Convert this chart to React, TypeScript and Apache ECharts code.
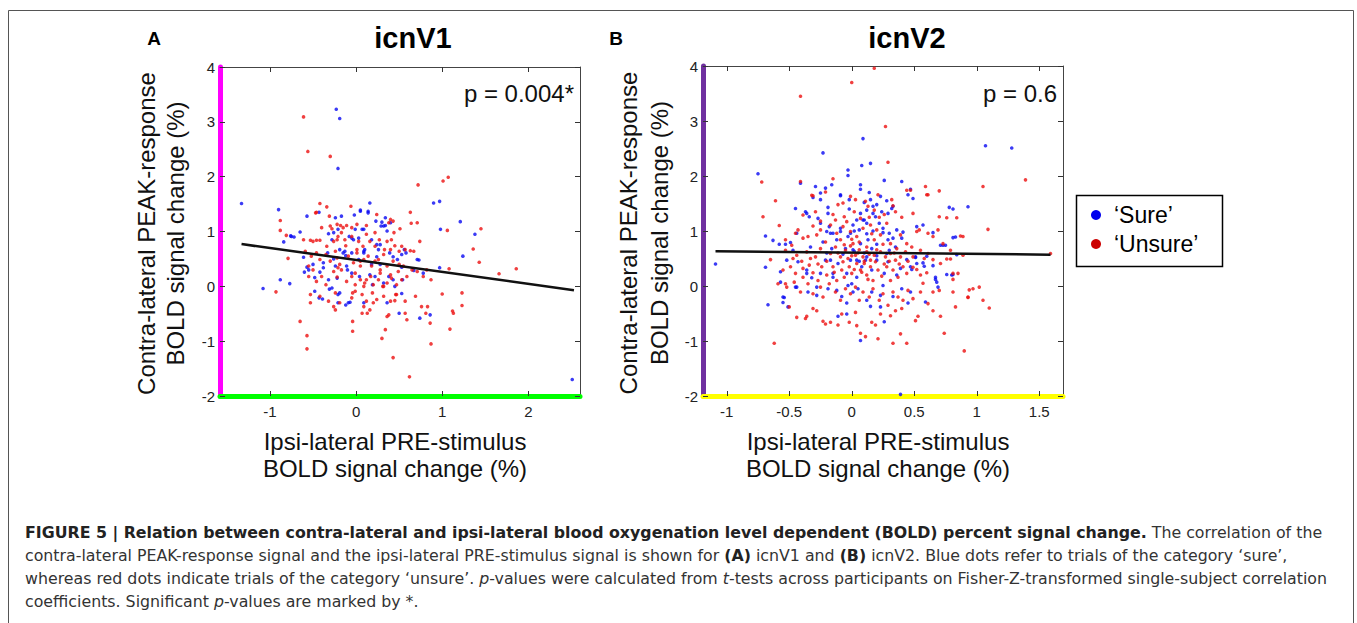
import React, { useEffect, useRef } from "react";
import * as echarts from "echarts";

type P = [number, number];

// ---------- axes / ticks ----------
const yTicks = [-2, -1, 0, 1, 2, 3, 4];
const yRange = [-2, 4];
const xTicksA = [-1, 0, 1, 2];
const xTicksB = [-1, -0.5, 0, 0.5, 1, 1.5];
const xRangeA = [-1.58, 2.6];
const xRangeB = [-1.19, 1.69];

// ---------- regression lines ----------
const fitA: P[] = [[-1.33, 0.77], [2.53, -0.07]];
const fitB: P[] = [[-1.09, 0.63], [1.59, 0.57]];

// ---------- texts ----------
const panelLetters = ["A", "B"];
const panelTitles = ["icnV1", "icnV2"];
const pValues = ["p = 0.004*", "p = 0.6"];
const yTitle = ["Contra-lateral PEAK-response", "BOLD signal change (%)"];
const xTitle = ["Ipsi-lateral PRE-stimulus", "BOLD signal change (%)"];
const legendLabels = ["\u2018Sure\u2019", "\u2018Unsure\u2019"];

// ---------- panel A: icnV1 ----------
const sureA: P[] = [
  [-1.33, 1.51], [-0.23, 3.23], [-0.19, 3.06], [-0.21, 2.15], [-0.9, 1.4], [-1.08, -0.04], [-0.88, 0.12], [-0.77, 0.05],
  [-0.84, 0.81], [-0.75, 0.91], [-0.72, 0.9], [-0.65, 0.99], [-0.57, 1.28], [-0.61, 0.53], [-0.6, 0.26], [-0.55, 0.3],
  [-0.48, 0.16], [-0.48, -0.09], [-0.43, 1.35], [-0.39, -0.23], [-0.38, 0.34], [-0.32, 0.96], [-0.31, -0.05], [-0.28, -0.03],
  [-0.26, 0.98], [-0.24, 1.25], [-0.22, 0.15], [-0.21, -0.3], [-0.19, -0.12], [-0.17, 1.28], [-0.15, 0.61], [-0.13, 0.64],
  [-0.11, 0.37], [-0.09, -0.3], [-0.07, -0.29], [-0.05, 0.88], [-0.03, 0.85], [0.05, 1.37], [0.07, 1.04], [0.09, 0.61],
  [0.1, 0.67], [0.14, 1.37], [0.16, 1.52], [0.18, 0.85], [0.22, 0.18], [0.23, 1.19], [0.26, 0.67], [0.28, 0.76],
  [0.29, 1.1], [0.32, 0.06], [0.36, 1.01], [0.36, -0.3], [0.39, 0.61], [0.43, 0.12], [0.45, 0.0], [0.48, 0.49],
  [0.5, -0.49], [0.53, 0.58], [0.56, 0.67], [0.58, 0.61], [0.67, 0.29], [0.71, 0.49], [0.74, -0.58], [0.78, 0.24],
  [0.86, -0.52], [0.9, 1.52], [0.97, 1.55], [0.98, 1.04], [0.97, 0.34], [1.21, 1.18], [1.24, 0.55], [1.38, 0.95],
  [2.51, -1.7], [0.34, 1.25], [0.4, 1.16], [-0.02, 1.3], [0.05, 1.39], [0.14, 1.34], [0.3, 1.17], [0.34, 1.11],
  [-0.76, 0.92], [-0.28, 0.85], [-0.21, 1.04], [-0.08, 0.91], [-0.01, 1.04], [0.03, 0.88], [0.09, 1.04], [0.24, 0.76],
  [0.32, 1.1], [-0.5, 0.4], [-0.38, 0.43], [-0.33, 0.61], [-0.26, 0.5], [-0.19, 0.67], [-0.12, 0.56], [-0.05, 0.61],
  [0.03, 0.49], [0.09, 0.64], [0.18, 0.4], [0.24, 0.54], [0.28, 0.4], [0.43, 0.54], [0.53, 0.35], [0.73, 0.48],
  [-0.57, 0.35], [-0.42, 0.26], [-0.32, 0.12], [-0.24, 0.37], [-0.1, 0.3], [-0.05, 0.24], [0.04, 0.18], [0.16, 0.21],
  [0.38, 0.18], [0.54, 0.12], [-0.43, -0.21], [-0.21, -0.15], [-0.12, -0.34], [0.09, -0.3], [0.19, 0.03], [0.53, -0.13],
];
const unsureA: P[] = [
  [-0.61, 3.09], [-0.56, 2.46], [-0.3, 2.37], [0.72, 1.85], [1.01, 1.92], [1.07, 1.99], [-0.88, 1.2], [-0.88, 1.02],
  [-0.81, 0.93], [-0.79, 0.51], [-0.93, -0.1], [-0.65, -0.64], [-0.57, -0.9], [-0.57, -1.14], [-0.53, -0.3], [-0.61, 0.85],
  [-0.59, 0.64], [-0.5, 0.82], [-0.47, 1.34], [-0.42, 1.51], [-0.4, 1.07], [-0.34, 1.45], [-0.31, 1.28], [-0.28, 1.05],
  [-0.26, -0.37], [-0.24, -0.43], [-0.22, 0.85], [-0.21, 0.34], [-0.18, 1.11], [-0.15, 1.07], [-0.12, 0.74], [-0.06, 1.46],
  [-0.04, -0.12], [-0.04, -0.64], [-0.04, -0.82], [-0.01, 0.24], [0.01, 0.67], [0.05, 0.46], [0.07, -0.49], [0.09, -0.37],
  [0.1, 0.06], [0.12, 0.12], [0.13, -0.49], [0.16, -0.43], [0.2, -0.3], [0.22, 0.98], [0.24, 1.31], [0.26, 0.49],
  [0.28, 0.24], [0.3, -0.95], [0.32, 0.0], [0.34, -0.79], [0.36, -0.55], [0.38, -0.52], [0.4, 1.22], [0.41, 0.85],
  [0.43, -1.3], [0.44, 0.98], [0.45, -0.26], [0.46, -0.15], [0.5, 0.4], [0.53, 0.73], [0.57, -0.49], [0.59, -0.61],
  [0.63, 1.35], [0.62, -1.65], [0.64, 1.15], [0.67, 0.64], [0.71, 1.16], [0.74, 0.82], [0.81, -0.49], [0.86, -0.67],
  [0.87, -1.05], [1.0, -0.14], [1.06, 1.02], [1.08, 0.32], [1.09, -0.78], [1.12, -0.45], [1.13, -0.49], [1.23, -0.12],
  [1.23, -0.35], [1.36, 0.68], [1.43, 0.44], [1.45, 1.05], [1.66, 0.23], [1.86, 0.32],
  [-0.46, 1.35], [-0.3, 1.1], [-0.22, 1.13], [-0.11, 1.11], [-0.05, 1.07], [0.01, 1.13], [0.12, 1.11], [0.38, 1.16],
  [0.43, 1.19], [0.51, 1.05], [-0.53, 0.84], [-0.46, 0.84], [-0.42, 0.84], [-0.34, 0.73], [-0.26, 0.82], [-0.21, 0.91],
  [-0.17, 0.98], [-0.13, 0.85], [-0.05, 0.91], [0.03, 0.82], [0.08, 0.73], [0.12, 0.95], [0.16, 0.82], [0.22, 0.73],
  [0.27, 0.85], [0.33, 0.67], [0.36, 0.82], [0.4, 0.67], [0.45, 0.74], [0.5, 0.64], [0.57, 0.67], [0.63, 0.65],
  [-0.55, 0.37], [-0.52, 0.55], [-0.46, 0.61], [-0.42, 0.49], [-0.35, 0.58], [-0.3, 0.46], [-0.24, 0.64], [-0.22, 0.52],
  [-0.19, 0.4], [-0.09, 0.55], [-0.03, 0.43], [0.01, 0.61], [0.05, 0.37], [0.09, 0.49], [0.14, 0.55], [0.18, 0.37],
  [0.22, 0.46], [0.28, 0.3], [0.32, 0.58], [0.36, 0.37], [0.4, 0.21], [0.43, 0.46], [0.49, 0.27], [0.55, 0.37],
  [0.59, 0.18], [0.65, 0.3], [0.71, 0.27], [0.78, 0.18], [0.82, 0.3], [0.87, 0.12], [-0.55, 0.18], [-0.5, 0.3],
  [-0.46, 0.09], [-0.4, 0.18], [-0.35, 0.03], [-0.26, 0.27], [-0.22, 0.17], [-0.17, 0.3], [-0.11, 0.09], [-0.05, 0.18],
  [-0.01, 0.03], [0.05, 0.12], [0.09, 0.0], [0.17, 0.18], [0.2, 0.03], [0.26, 0.12], [0.31, 0.0], [0.36, 0.06],
  [0.41, 0.15], [0.47, 0.03], [0.53, 0.12], [0.69, -0.18], [-0.53, -0.15], [-0.42, -0.18], [-0.32, -0.27], [-0.24, -0.12],
  [-0.19, -0.3], [-0.05, -0.21], [-0.01, -0.09], [0.07, -0.15], [0.12, -0.27], [0.19, -0.12], [0.24, -0.24], [0.32, -0.18],
  [0.4, -0.27], [0.47, -0.15], [0.57, -0.27], [0.76, -0.37], [0.83, -0.37],
];

// ---------- panel B: icnV2 ----------
const sureB: P[] = [
  [-1.09, 0.4], [-0.75, 2.04], [-0.69, 0.91], [-0.63, 0.83], [-0.69, 0.34], [-0.67, -0.34], [-0.54, -0.21], [-0.55, -0.3],
  [-0.51, -0.38], [-0.49, 0.79], [-0.47, 0.65], [-0.45, 1.41], [-0.44, 0.96], [-0.44, -0.02], [-0.41, 1.87], [-0.36, 1.32],
  [-0.34, 1.26], [-0.36, 0.23], [-0.31, 1.61], [-0.27, 1.23], [-0.28, -0.02], [-0.23, 2.42], [-0.25, 1.57], [-0.21, 1.78],
  [-0.19, 1.43], [-0.18, 1.08], [-0.17, 0.96], [-0.17, 0.47], [-0.15, 0.23], [-0.11, -0.55], [-0.09, 1.66], [-0.09, 0.99],
  [-0.04, -0.51], [-0.03, 2.11], [-0.03, 2.01], [-0.02, 1.57], [-0.01, 0.96], [0.0, 0.04], [0.02, 0.63], [0.04, 1.2],
  [0.04, 0.47], [0.07, 1.84], [0.07, 1.76], [0.08, 2.19], [0.09, 2.68], [0.09, 1.2], [0.12, 1.14], [0.11, 0.47],
  [0.07, -0.99], [0.15, 2.23], [0.15, 1.57], [0.17, 1.45], [0.19, 1.26], [0.23, 1.63], [0.25, 1.05], [0.26, 1.92],
  [0.26, -0.65], [0.3, 0.96], [0.32, 1.41], [0.33, 0.87], [0.39, 0.32], [0.4, 1.9], [0.41, 0.98], [0.45, -0.31],
  [0.45, 1.66], [0.49, 1.59], [0.48, 0.3], [0.51, 0.53], [0.57, 1.11], [0.57, 0.42], [0.59, -0.29], [0.67, 0.12],
  [0.65, 0.37], [0.69, -0.02], [0.73, 0.74], [0.75, 0.74], [0.76, 0.21], [0.78, 1.43], [0.81, 1.4], [0.81, 0.21],
  [0.83, 0.89], [0.84, 0.57], [0.93, 1.44], [1.07, 2.55], [1.28, 2.51], [0.39, -1.97],
  [-0.58, 0.76], [-0.53, 0.76], [-0.37, 1.35], [-0.29, 1.81], [-0.25, 1.69], [-0.16, 1.84], [-0.09, 1.64], [0.47, 1.76],
  [0.29, 1.32], [0.33, 1.45], [0.17, 1.32], [0.2, 1.48], [0.12, 1.38], [0.07, 1.32], [-0.02, 1.4], [-0.19, 1.32],
  [-0.25, 1.14], [-0.2, 0.99], [-0.15, 0.96], [-0.09, 1.05], [-0.03, 0.9], [0.01, 1.11], [0.06, 1.02], [0.1, 1.2],
  [0.13, 0.84], [0.22, 1.14], [0.25, 0.97], [0.29, 0.84], [0.36, 1.02], [0.4, 0.87], [0.52, 1.08], [0.65, 0.97],
  [0.71, 0.74], [0.81, 0.88], [-0.33, 0.71], [-0.23, 0.8], [-0.16, 0.68], [-0.12, 0.84], [-0.05, 0.68], [0.01, 0.66],
  [0.07, 0.77], [0.12, 0.53], [0.2, 0.76], [0.28, 0.59], [0.35, 0.71], [0.44, 0.48], [0.51, 0.52], [0.6, 0.54],
  [-0.52, 0.47], [-0.43, 0.44], [-0.36, 0.29], [-0.32, 0.15], [-0.25, 0.23], [-0.21, 0.47], [-0.15, 0.16], [-0.11, 0.41],
  [-0.04, 0.23], [-0.01, 0.47], [0.04, 0.16], [0.08, 0.35], [0.16, 0.29], [0.2, 0.47], [0.26, 0.23], [0.29, 0.44],
  [0.36, 0.2], [0.47, 0.35], [0.52, 0.41], [0.58, 0.36], [0.67, 0.16], [0.68, 0.07], [0.8, 0.2], [-0.57, 0.26],
  [-0.57, 0.07], [-0.45, -0.02], [-0.35, -0.11], [-0.28, -0.17], [-0.19, -0.05], [-0.12, -0.08], [-0.08, -0.19], [-0.03, 0.01],
  [0.01, -0.11], [0.05, -0.05], [0.12, -0.26], [0.16, -0.11], [0.23, -0.17], [0.25, 0.01], [0.33, -0.19], [0.4, -0.05],
  [0.47, -0.11], [-0.55, -0.2], [-0.04, -0.31], [0.15, -0.37], [0.23, -0.38],
  [0.1, 0.6], [0.16, 0.68], [0.06, 0.45], [-0.07, 0.58], [0.2, 0.55], [0.3, 0.65], [-0.2, 0.6], [0.12, 0.95],
  [0.02, 1.0], [0.17, 1.0], [0.24, 1.35], [0.28, 1.55], [0.14, 1.7], [0.1, 1.52],
];
const unsureB: P[] = [
  [0.18, 3.96], [0.0, 3.7], [-0.41, 3.45], [0.27, 2.9], [0.29, 2.25], [-0.41, 1.9], [-0.72, 1.89], [1.05, 1.81],
  [1.39, 1.93], [-0.71, 1.26], [-0.61, 1.55], [-0.58, 1.1], [-0.65, 0.48], [-0.53, 0.84], [-0.59, 0.04], [-0.53, 0.04],
  [-0.62, -1.04], [-0.5, -0.38], [-0.37, -0.59], [-0.36, -0.55], [-0.32, 1.65], [-0.28, -0.45], [-0.23, -0.64], [-0.21, -0.69],
  [-0.15, 1.95], [-0.11, -0.71], [-0.01, 1.63], [0.03, -0.48], [0.04, -0.72], [0.07, -0.86], [0.11, -0.92], [0.19, -0.71],
  [0.21, -0.96], [0.33, -1.04], [0.39, -0.87], [0.44, -1.04], [0.53, -0.55], [0.59, 1.81], [0.61, 1.66], [0.7, 1.73],
  [0.76, 1.24], [0.84, 1.24], [0.83, -0.38], [0.71, -0.55], [0.74, -0.86], [0.9, -1.18], [0.94, -0.07], [0.93, -0.21],
  [1.02, -0.02], [1.05, -0.26], [1.09, 1.03], [1.1, -0.4], [1.59, 0.59], [0.89, 0.9], [0.89, 0.56], [0.85, 0.23],
  [0.81, 0.12], [0.57, 0.05], [0.61, -0.32], [-0.44, -0.57], [-0.31, -0.41], [-0.17, -0.66], [-0.08, -0.51], [-0.02, -0.66],
  [0.16, -0.66], [0.23, -0.51], [0.31, -0.54], [0.35, -0.45], [0.4, -0.41], [0.51, -0.63], [0.65, -0.45],
  [-0.43, 1.02], [-0.31, 1.64], [-0.29, 1.35], [-0.21, 1.71], [-0.25, 1.18], [-0.11, 1.48], [-0.07, 1.51], [-0.06, 1.26],
  [0.03, 1.57], [0.11, 1.54], [0.13, 1.45], [0.18, 1.38], [0.21, 1.66], [0.32, 1.57], [0.33, 1.46], [0.44, 1.74],
  [0.47, 1.74], [0.49, 1.32], [0.6, 1.66], [0.7, 1.26], [-0.39, 1.29], [-0.48, 0.74], [-0.45, 0.96], [-0.39, 0.87],
  [-0.35, 0.9], [-0.31, 1.09], [-0.28, 0.93], [-0.25, 1.02], [-0.21, 0.8], [-0.17, 1.11], [-0.13, 1.2], [-0.12, 0.96],
  [-0.09, 0.84], [-0.07, 1.08], [-0.04, 1.17], [-0.01, 0.99], [0.01, 0.77], [0.04, 0.9], [0.07, 1.23], [0.09, 1.05],
  [0.12, 0.71], [0.15, 1.11], [0.18, 0.84], [0.2, 1.02], [0.23, 0.93], [0.25, 0.76], [0.28, 1.14], [0.31, 0.77],
  [0.36, 0.68], [0.39, 0.93], [0.44, 0.77], [0.48, 0.71], [0.52, 0.99], [0.54, 1.02], [0.61, 0.96], [0.65, 0.9],
  [0.69, 1.02], [0.73, 0.77], [0.79, 0.65], [0.87, 0.91], [-0.53, 0.65], [-0.44, 0.56], [-0.36, 0.62], [-0.29, 0.53],
  [-0.25, 0.68], [-0.17, 0.59], [-0.13, 0.71], [-0.09, 0.53], [-0.05, 0.65], [-0.01, 0.73], [0.03, 0.56], [0.06, 0.66],
  [0.09, 0.53], [0.12, 0.62], [0.15, 0.47], [0.18, 0.56], [0.2, 0.66], [0.27, 0.53], [0.31, 0.59], [0.35, 0.47],
  [0.39, 0.53], [0.43, 0.62], [0.49, 0.53], [0.55, 0.65], [0.61, 0.59], [0.65, 0.48], [0.76, 0.49], [0.79, 0.49],
  [0.97, -0.05], [-0.55, 0.29], [-0.49, 0.35], [-0.45, 0.23], [-0.39, 0.32], [-0.39, 0.16], [-0.34, 0.38], [-0.31, 0.24],
  [-0.27, 0.1], [-0.24, 0.35], [-0.2, 0.2], [-0.15, 0.35], [-0.12, 0.1], [-0.08, 0.29], [-0.06, 0.16], [-0.02, 0.35],
  [0.0, 0.23], [0.04, 0.41], [0.07, 0.29], [0.1, 0.41], [0.12, 0.2], [0.15, 0.35], [0.17, 0.1], [0.21, 0.29],
  [0.24, 0.18], [0.28, 0.35], [0.31, 0.1], [0.33, 0.29], [0.37, 0.16], [0.41, 0.35], [0.44, 0.23], [0.49, 0.34],
  [0.55, 0.2], [0.6, 0.24], [0.71, 0.41], [0.81, 0.23], [-0.52, -0.02], [-0.46, 0.07], [-0.41, -0.11], [-0.35, 0.04],
  [-0.31, -0.14], [-0.25, -0.02], [-0.23, -0.2], [-0.18, 0.04], [-0.13, -0.11], [-0.09, -0.26], [-0.05, -0.05], [-0.01, -0.14],
  [0.03, -0.02], [0.06, -0.26], [0.09, -0.11], [0.14, -0.2], [0.17, -0.05], [0.22, -0.26], [0.25, -0.14], [0.29, -0.35],
  [0.33, -0.11], [0.37, -0.2], [0.41, -0.26], [0.45, -0.08], [0.49, -0.23], [0.55, -0.11], [0.65, -0.11], [0.7, -0.08],
  [0.81, -0.11], [0.93, -0.2],
  [0.0, 0.55], [0.05, 0.6], [0.1, 0.45], [0.14, 0.58], [0.19, 0.44], [0.23, 0.62], [0.26, 0.4], [-0.03, 0.5],
  [-0.07, 0.44], [-0.11, 0.6], [0.08, 0.25], [0.13, 0.12], [0.02, 0.3], [-0.14, 0.25], [0.3, 0.45], [0.34, 0.6],
  [0.38, 0.4], [-0.2, 0.45], [-0.27, 0.4], [-0.33, 0.5], [0.45, 0.45], [0.52, 0.3], [0.58, 0.5], [-0.4, 0.45],
  [-0.47, 0.5], [0.0, 0.85], [0.06, 0.8], [0.16, 0.95], [-0.06, 0.75], [0.22, 1.25], [0.26, 1.3], [0.14, 1.25],
  [0.02, 1.35], [-0.15, 1.3], [0.4, 1.25], [0.35, 1.35],
];

// ---------- caption ----------
const captionLines = [
  "{b|FIGURE 5 | Relation between contra-lateral and ipsi-lateral blood oxygenation level dependent (BOLD) percent signal change.}{n| The correlation of the}",
  "{n|contra-lateral PEAK-response signal and the ipsi-lateral PRE-stimulus signal is shown for }{b|(A)}{n| icnV1 and }{b|(B)}{n| icnV2. Blue dots refer to trials of the category \u2018sure\u2019,}",
  "{n|whereas red dots indicate trials of the category \u2018unsure\u2019. }{i|p}{n|-values were calculated from }{i|t}{n|-tests across participants on Fisher-Z-transformed single-subject correlation}",
  "{n|coefficients. Significant }{i|p}{n|-values are marked by *.}",
];

const FONT = "'Liberation Sans', Arial, Helvetica, sans-serif";
const CAP_FONT = "'DejaVu Sans', Verdana, sans-serif";
const BLUE = "#0a0af2";
const RED = "#ec1010";

const grids = [
  { left: 220, top: 67, width: 360, height: 329 },
  { left: 703, top: 66, width: 360, height: 330 },
];
const leftColors = ["#ff00ff", "#7030a0"];
const bottomColors = ["#00ff00", "#ffff00"];

function buildOption() {
  const xAxis: any[] = [];
  const yAxis: any[] = [];
  const xr = [xRangeA, xRangeB];
  const xt = [xTicksA, xTicksB];
  for (let g = 0; g < 2; g++) {
    const tickStyle = { color: "#333", width: 1 };
    xAxis.push({
      gridIndex: g, type: "value", position: "bottom", min: xr[g][0], max: xr[g][1],
      axisLine: { show: true, onZero: false, lineStyle: { color: bottomColors[g], width: 5 } },
      axisTick: { show: true, inside: true, length: 5, customValues: xt[g], lineStyle: tickStyle },
      axisLabel: { show: true, customValues: xt[g], fontSize: 15, color: "#222", fontFamily: FONT, margin: 8 },
      splitLine: { show: false },
    });
    xAxis.push({
      gridIndex: g, type: "value", position: "top", min: xr[g][0], max: xr[g][1],
      axisLine: { show: true, onZero: false, lineStyle: { color: "#444", width: 1 } },
      axisTick: { show: true, inside: true, length: 5, customValues: xt[g], lineStyle: tickStyle },
      axisLabel: { show: false },
      splitLine: { show: false },
    });
    yAxis.push({
      gridIndex: g, type: "value", position: "left", min: yRange[0], max: yRange[1], interval: 1,
      axisLine: { show: true, onZero: false, lineStyle: { color: leftColors[g], width: 5 } },
      axisTick: { show: true, inside: true, length: 5, lineStyle: tickStyle },
      axisLabel: { show: true, customValues: yTicks, fontSize: 15, color: "#222", fontFamily: FONT, margin: 5 },
      splitLine: { show: false },
    });
    yAxis.push({
      gridIndex: g, type: "value", position: "right", min: yRange[0], max: yRange[1], interval: 1,
      axisLine: { show: true, onZero: false, lineStyle: { color: "#444", width: 1 } },
      axisTick: { show: true, inside: true, length: 5, lineStyle: tickStyle },
      axisLabel: { show: false },
      splitLine: { show: false },
    });
  }

  const sure = [sureA, sureB];
  const unsure = [unsureA, unsureB];
  const fits = [fitA, fitB];
  const series: any[] = [];
  for (let g = 0; g < 2; g++) {
    series.push({
      type: "scatter", name: legendLabels[0], xAxisIndex: g * 2, yAxisIndex: g * 2,
      data: sure[g], symbolSize: 3.6, itemStyle: { color: BLUE }, silent: true,
    });
    series.push({
      type: "scatter", name: legendLabels[1], xAxisIndex: g * 2, yAxisIndex: g * 2,
      data: unsure[g], symbolSize: 3.6, itemStyle: { color: RED }, silent: true,
    });
    series.push({
      type: "line", xAxisIndex: g * 2, yAxisIndex: g * 2, data: fits[g], symbol: "none",
      lineStyle: { color: "#111", width: 2.5 }, silent: true, z: 5,
    });
  }

  const txt = (x: number, y: number, text: string, font: string, align = "center", vAlign = "middle", rotation = 0, fill = "#111") => ({
    type: "text", x, y, rotation,
    style: { text, font, fill, align, textAlign: align, verticalAlign: vAlign, textVerticalAlign: vAlign },
  });

  const graphic: any[] = [];
  // outer frame
  graphic.push({
    type: "rect", shape: { x: 8.5, y: 10.5, width: 1345, height: 700 },
    style: { fill: "none", stroke: "#555", lineWidth: 1 }, silent: true,
  });
  const letterX = [154, 616];
  const titleX = [413, 907];
  const pX = [574, 1057];
  const yTitleX = [[146, 175], [628, 659]];
  for (let g = 0; g < 2; g++) {
    const gr = grids[g];
    graphic.push(txt(letterX[g], 38, panelLetters[g], `bold 19px ${FONT}`, "center", "middle", 0, "#000"));
    graphic.push(txt(titleX[g], 38, panelTitles[g], `bold 29px ${FONT}`, "center", "middle", 0, "#000"));
    graphic.push(txt(pX[g], 93, pValues[g], `24px ${FONT}`, "right", "middle", 0, "#111"));
    graphic.push(txt(yTitleX[g][0], gr.top + gr.height / 2 + 2, yTitle[0], `24px ${FONT}`, "center", "middle", Math.PI / 2));
    graphic.push(txt(yTitleX[g][1], gr.top + gr.height / 2 + 2, yTitle[1], `24px ${FONT}`, "center", "middle", Math.PI / 2));
    graphic.push(txt(gr.left + gr.width / 2 - 5, 441, xTitle[0], `24px ${FONT}`));
    graphic.push(txt(gr.left + gr.width / 2 - 5, 468, xTitle[1], `24px ${FONT}`));
  }
  // legend
  graphic.push({
    type: "rect", shape: { x: 1076.5, y: 195.5, width: 146, height: 71 },
    style: { fill: "#fff", stroke: "#000", lineWidth: 1.5 }, silent: true,
  });
  graphic.push({ type: "circle", shape: { cx: 1096, cy: 215, r: 5 }, style: { fill: "#0000ee" } });
  graphic.push({ type: "circle", shape: { cx: 1096, cy: 244, r: 5 }, style: { fill: "#cc0000" } });
  graphic.push(txt(1114, 215, legendLabels[0], `23px ${FONT}`, "left", "middle", 0, "#000"));
  graphic.push(txt(1114, 244, legendLabels[1], `23px ${FONT}`, "left", "middle", 0, "#000"));

  // caption
  const capY = [532, 555, 578, 601];
  const base = { fontSize: 15.8, fontFamily: CAP_FONT, fill: "#333" };
  captionLines.forEach((line, i) => {
    graphic.push({
      type: "text", x: 25, y: capY[i],
      style: {
        text: line, fontSize: 15.8, fontFamily: CAP_FONT, fill: "#333",
        align: "left", textAlign: "left", verticalAlign: "middle", textVerticalAlign: "middle",
        rich: {
          n: { ...base },
          b: { ...base, fontWeight: "bold", fill: "#222" },
          i: { ...base, fontStyle: "italic" },
        },
      },
    });
  });

  return {
    animation: false,
    backgroundColor: "#fff",
    grid: grids,
    xAxis,
    yAxis,
    series,
    graphic,
  };
}

export default function App() {
  const ref = useRef<HTMLDivElement>(null);
  useEffect(() => {
    if (!ref.current) return;
    const chart = echarts.init(ref.current, null, { renderer: "svg" });
    chart.setOption(buildOption() as any);
    return () => chart.dispose();
  }, []);
  return (
    <div
      ref={ref}
      style={{ position: "absolute", left: 0, top: 0, width: 1357, height: 623, background: "#fff" }}
    />
  );
}
